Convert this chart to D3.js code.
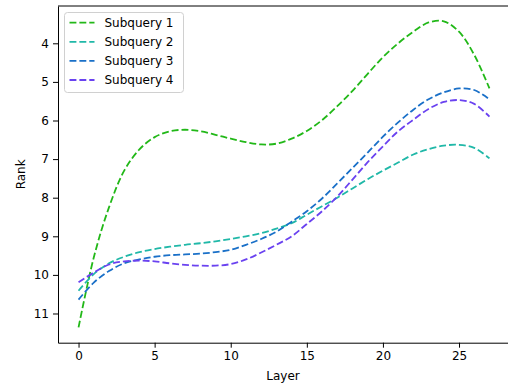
<!DOCTYPE html>
<html>
<head>
<meta charset="utf-8">
<script src="https://cdn.jsdelivr.net/npm/d3@7"></script>
<style>
  html, body { margin: 0; padding: 0; background: #fff; }
  svg { display: block; font-family: "DejaVu Sans", sans-serif; }
</style>
</head>
<body>
<svg id="chart" width="508" height="385"></svg>
<script>
const layers = [0,1,2,3,4,5,6,7,8,9,10,11,12,13,14,15,16,17,18,19,20,21,22,23,24,25,26,27];
const seriesNames = ["Subquery 1", "Subquery 2", "Subquery 3", "Subquery 4"];
const sub1 = [11.36, 9.55, 8.25, 7.30, 6.75, 6.43, 6.28, 6.24, 6.28, 6.37, 6.47, 6.56, 6.62, 6.60, 6.47, 6.27, 5.99, 5.63, 5.23, 4.79, 4.36, 4.00, 3.70, 3.46, 3.43, 3.70, 4.30, 5.17];
const sub2 = [10.41, 9.98, 9.70, 9.53, 9.41, 9.33, 9.27, 9.22, 9.18, 9.13, 9.07, 9.00, 8.92, 8.80, 8.66, 8.44, 8.22, 8.00, 7.76, 7.52, 7.30, 7.09, 6.88, 6.74, 6.65, 6.63, 6.71, 6.98];
const sub3 = [10.64, 10.20, 9.90, 9.70, 9.60, 9.53, 9.49, 9.47, 9.45, 9.41, 9.35, 9.22, 9.07, 8.88, 8.62, 8.35, 8.02, 7.63, 7.23, 6.83, 6.42, 6.05, 5.72, 5.45, 5.27, 5.17, 5.21, 5.45];
const sub4 = [10.19, 9.94, 9.73, 9.65, 9.63, 9.65, 9.70, 9.74, 9.76, 9.76, 9.72, 9.60, 9.42, 9.22, 9.00, 8.68, 8.35, 7.97, 7.53, 7.08, 6.67, 6.28, 5.98, 5.70, 5.52, 5.47, 5.57, 5.90];
const colors = ["#22b818", "#20b8a8", "#1a70c8", "#6a42f0"];
const xTicks = [0, 5, 10, 15, 20, 25];
const yTicks = [4, 5, 6, 7, 8, 9, 10, 11];

(function () {
const series = [sub1, sub2, sub3, sub4];
const svg = d3.select("#chart");
const pL = 58, pR = 510, pT = 6, pB = 342.7;

const xMin = d3.min(layers), xMax = d3.max(layers);
const xPad = (xMax - xMin) * 0.05;
const x = d3.scaleLinear().domain([xMin - xPad, xMax + xPad]).range([pL, pR]);

const allVals = series.flat();
const yMin = d3.min(allVals), yMax = d3.max(allVals);
const yPad = (yMax - yMin) * 0.05;
const y = d3.scaleLinear().domain([yMin - yPad, yMax + yPad]).range([pT, pB]);

const line = d3.line()
  .x((d, i) => x(layers[i]))
  .y(d => y(d))
  .curve(d3.curveCatmullRom.alpha(0.5));

svg.append("defs").append("clipPath").attr("id", "clip")
  .append("rect").attr("x", pL).attr("y", pT).attr("width", pR - pL).attr("height", pB - pT);

const g = svg.append("g").attr("clip-path", "url(#clip)");
series.forEach((s, k) => {
  g.append("path")
    .attr("d", line(s))
    .attr("fill", "none")
    .attr("stroke", colors[k])
    .attr("stroke-width", 1.8)
    .attr("stroke-dasharray", "6.9,3");
});

const xAxis = svg.append("g").attr("transform", `translate(0,${pB})`)
  .call(d3.axisBottom(x).tickValues(xTicks).tickSize(5).tickPadding(4).tickSizeOuter(0).tickFormat(d3.format("d")));
const yAxis = svg.append("g").attr("transform", `translate(${pL},0)`)
  .call(d3.axisLeft(y).tickValues(yTicks).tickSize(5).tickPadding(4).tickSizeOuter(0).tickFormat(d3.format("d")));
[xAxis, yAxis].forEach(a => {
  a.selectAll("text").attr("font-size", 12).attr("fill", "#000").attr("font-family", "DejaVu Sans, sans-serif");
  a.selectAll("line").attr("stroke", "#000").attr("stroke-width", 1);
  a.select(".domain").attr("stroke", "#000").attr("stroke-width", 1);
});
svg.append("line").attr("x1", pL).attr("x2", pR).attr("y1", pT).attr("y2", pT).attr("stroke", "#000").attr("stroke-width", 1);
svg.append("line").attr("x1", pR).attr("x2", pR).attr("y1", pT).attr("y2", pB).attr("stroke", "#000").attr("stroke-width", 1);

svg.append("text").attr("x", (pL + pR) / 2 - 1).attr("y", 379.5)
  .attr("text-anchor", "middle").attr("font-size", 12).text("Layer");
svg.append("text").attr("transform", `translate(25,${(pT + pB) / 2}) rotate(-90)`)
  .attr("text-anchor", "middle").attr("font-size", 12).text("Rank");

const lg = svg.append("g");
lg.append("rect").attr("x", 64.5).attr("y", 12.5).attr("width", 119).attr("height", 80)
  .attr("rx", 3).attr("fill", "#fff").attr("fill-opacity", 0.8)
  .attr("stroke", "#d0d0d0").attr("stroke-width", 1);
seriesNames.forEach((name, k) => {
  const yy = 22.7 + k * 19.1;
  lg.append("line").attr("x1", 69.5).attr("x2", 94.5).attr("y1", yy).attr("y2", yy)
    .attr("stroke", colors[k]).attr("stroke-width", 1.8).attr("stroke-dasharray", "6.9,3");
  lg.append("text").attr("x", 104.5).attr("y", yy + 4.4).attr("font-size", 12).text(name);
});
})();
</script>
</body>
</html>
